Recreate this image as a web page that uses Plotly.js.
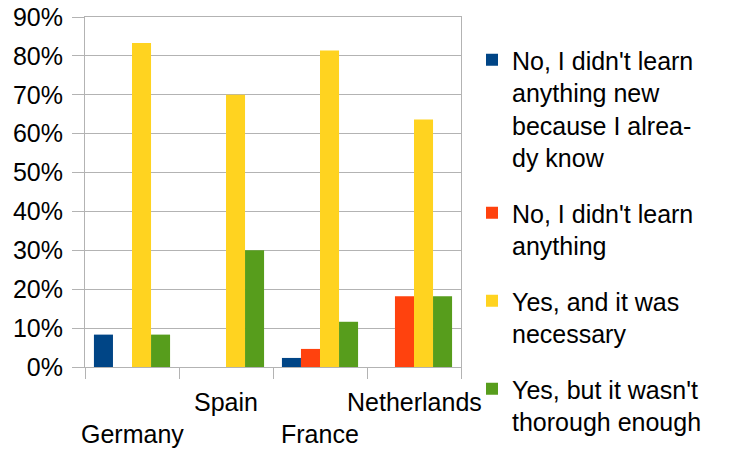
<!DOCTYPE html>
<html>
<head>
<meta charset="utf-8">
<script src="https://cdn.plot.ly/plotly-3.0.1.min.js"></script>
<style>html,body{margin:0;padding:0;background:#fff;}#chart{width:731px;height:452px;}</style>
</head>
<body>
<div id="chart"></div>
<script>
const categories = ["Germany", "Spain", "France", "Netherlands"];
const seriesNames = [
  "No, I didn't learn<br>anything new<br>because I alrea-<br>dy know",
  "No, I didn't learn<br>anything",
  "Yes, and it was<br>necessary",
  "Yes, but it wasn't<br>thorough enough"
];
const noAlreadyKnow = [0.0833, 0, 0.0233, 0];
const noNothing = [0, 0, 0.0465, 0.1818];
const yesNecessary = [0.8333, 0.70, 0.8140, 0.6364];
const yesNotThorough = [0.0833, 0.30, 0.1163, 0.1818];
const colors = ["#004586", "#ff420e", "#ffd320", "#579d1c"];
const yTicks = [0, 0.1, 0.2, 0.3, 0.4, 0.5, 0.6, 0.7, 0.8, 0.9];

const seriesValues = [noAlreadyKnow, noNothing, yesNecessary, yesNotThorough];
const font = {family: "Liberation Sans, Arial, sans-serif", size: 25, color: "#000"};
const grid = "#b3b3b3";

const traces = seriesValues.map((vals, i) => ({
  type: "bar",
  x: categories,
  y: vals,
  name: seriesNames[i],
  legendgroup: "g" + i,
  marker: {color: colors[i], line: {width: 0}},
  hoverinfo: "skip"
}));

const annotations = categories.map((c, i) => ({
  x: c, xref: "x", y: 0, yref: "paper",
  text: c, showarrow: false,
  xanchor: "center", yanchor: "top",
  yshift: i % 2 === 0 ? -51 : -19,
  font: font
}));

const layout = {
  width: 731, height: 452,
  margin: {l: 85, r: 270, t: 17, b: 85},
  paper_bgcolor: "#fff", plot_bgcolor: "#fff",
  font: font,
  barmode: "group",
  bargap: 0.19,
  bargroupgap: 0,
  showlegend: true,
  legend: {
    x: 472 / 731, xref: "container", xanchor: "left",
    y: 1 - 37 / 452, yref: "container", yanchor: "top",
    valign: "top",
    tracegroupgap: 20,
    maxheight: 452,
    font: font,
    bgcolor: "rgba(0,0,0,0)"
  },
  xaxis: {
    type: "category",
    range: [-0.5, 3.5],
    autorange: false,
    tickson: "boundaries",
    ticks: "outside", ticklen: 11, tickcolor: grid, tickwidth: 1,
    showticklabels: false,
    showline: true, linecolor: grid, linewidth: 1, mirror: true,
    showgrid: false, zeroline: false, fixedrange: true
  },
  yaxis: {
    range: [0, 0.9],
    autorange: false,
    tickvals: yTicks,
    tickformat: ".0%",
    ticks: "outside", ticklen: 12, tickcolor: grid, tickwidth: 1,
    ticklabelstandoff: 4,
    showline: true, linecolor: grid, linewidth: 1, mirror: true,
    showgrid: true, gridcolor: grid, gridwidth: 1,
    zeroline: false, fixedrange: true,
    tickfont: font
  },
  annotations: annotations
};

Plotly.newPlot("chart", traces, layout, {staticPlot: true, displayModeBar: false});
</script>
</body>
</html>
